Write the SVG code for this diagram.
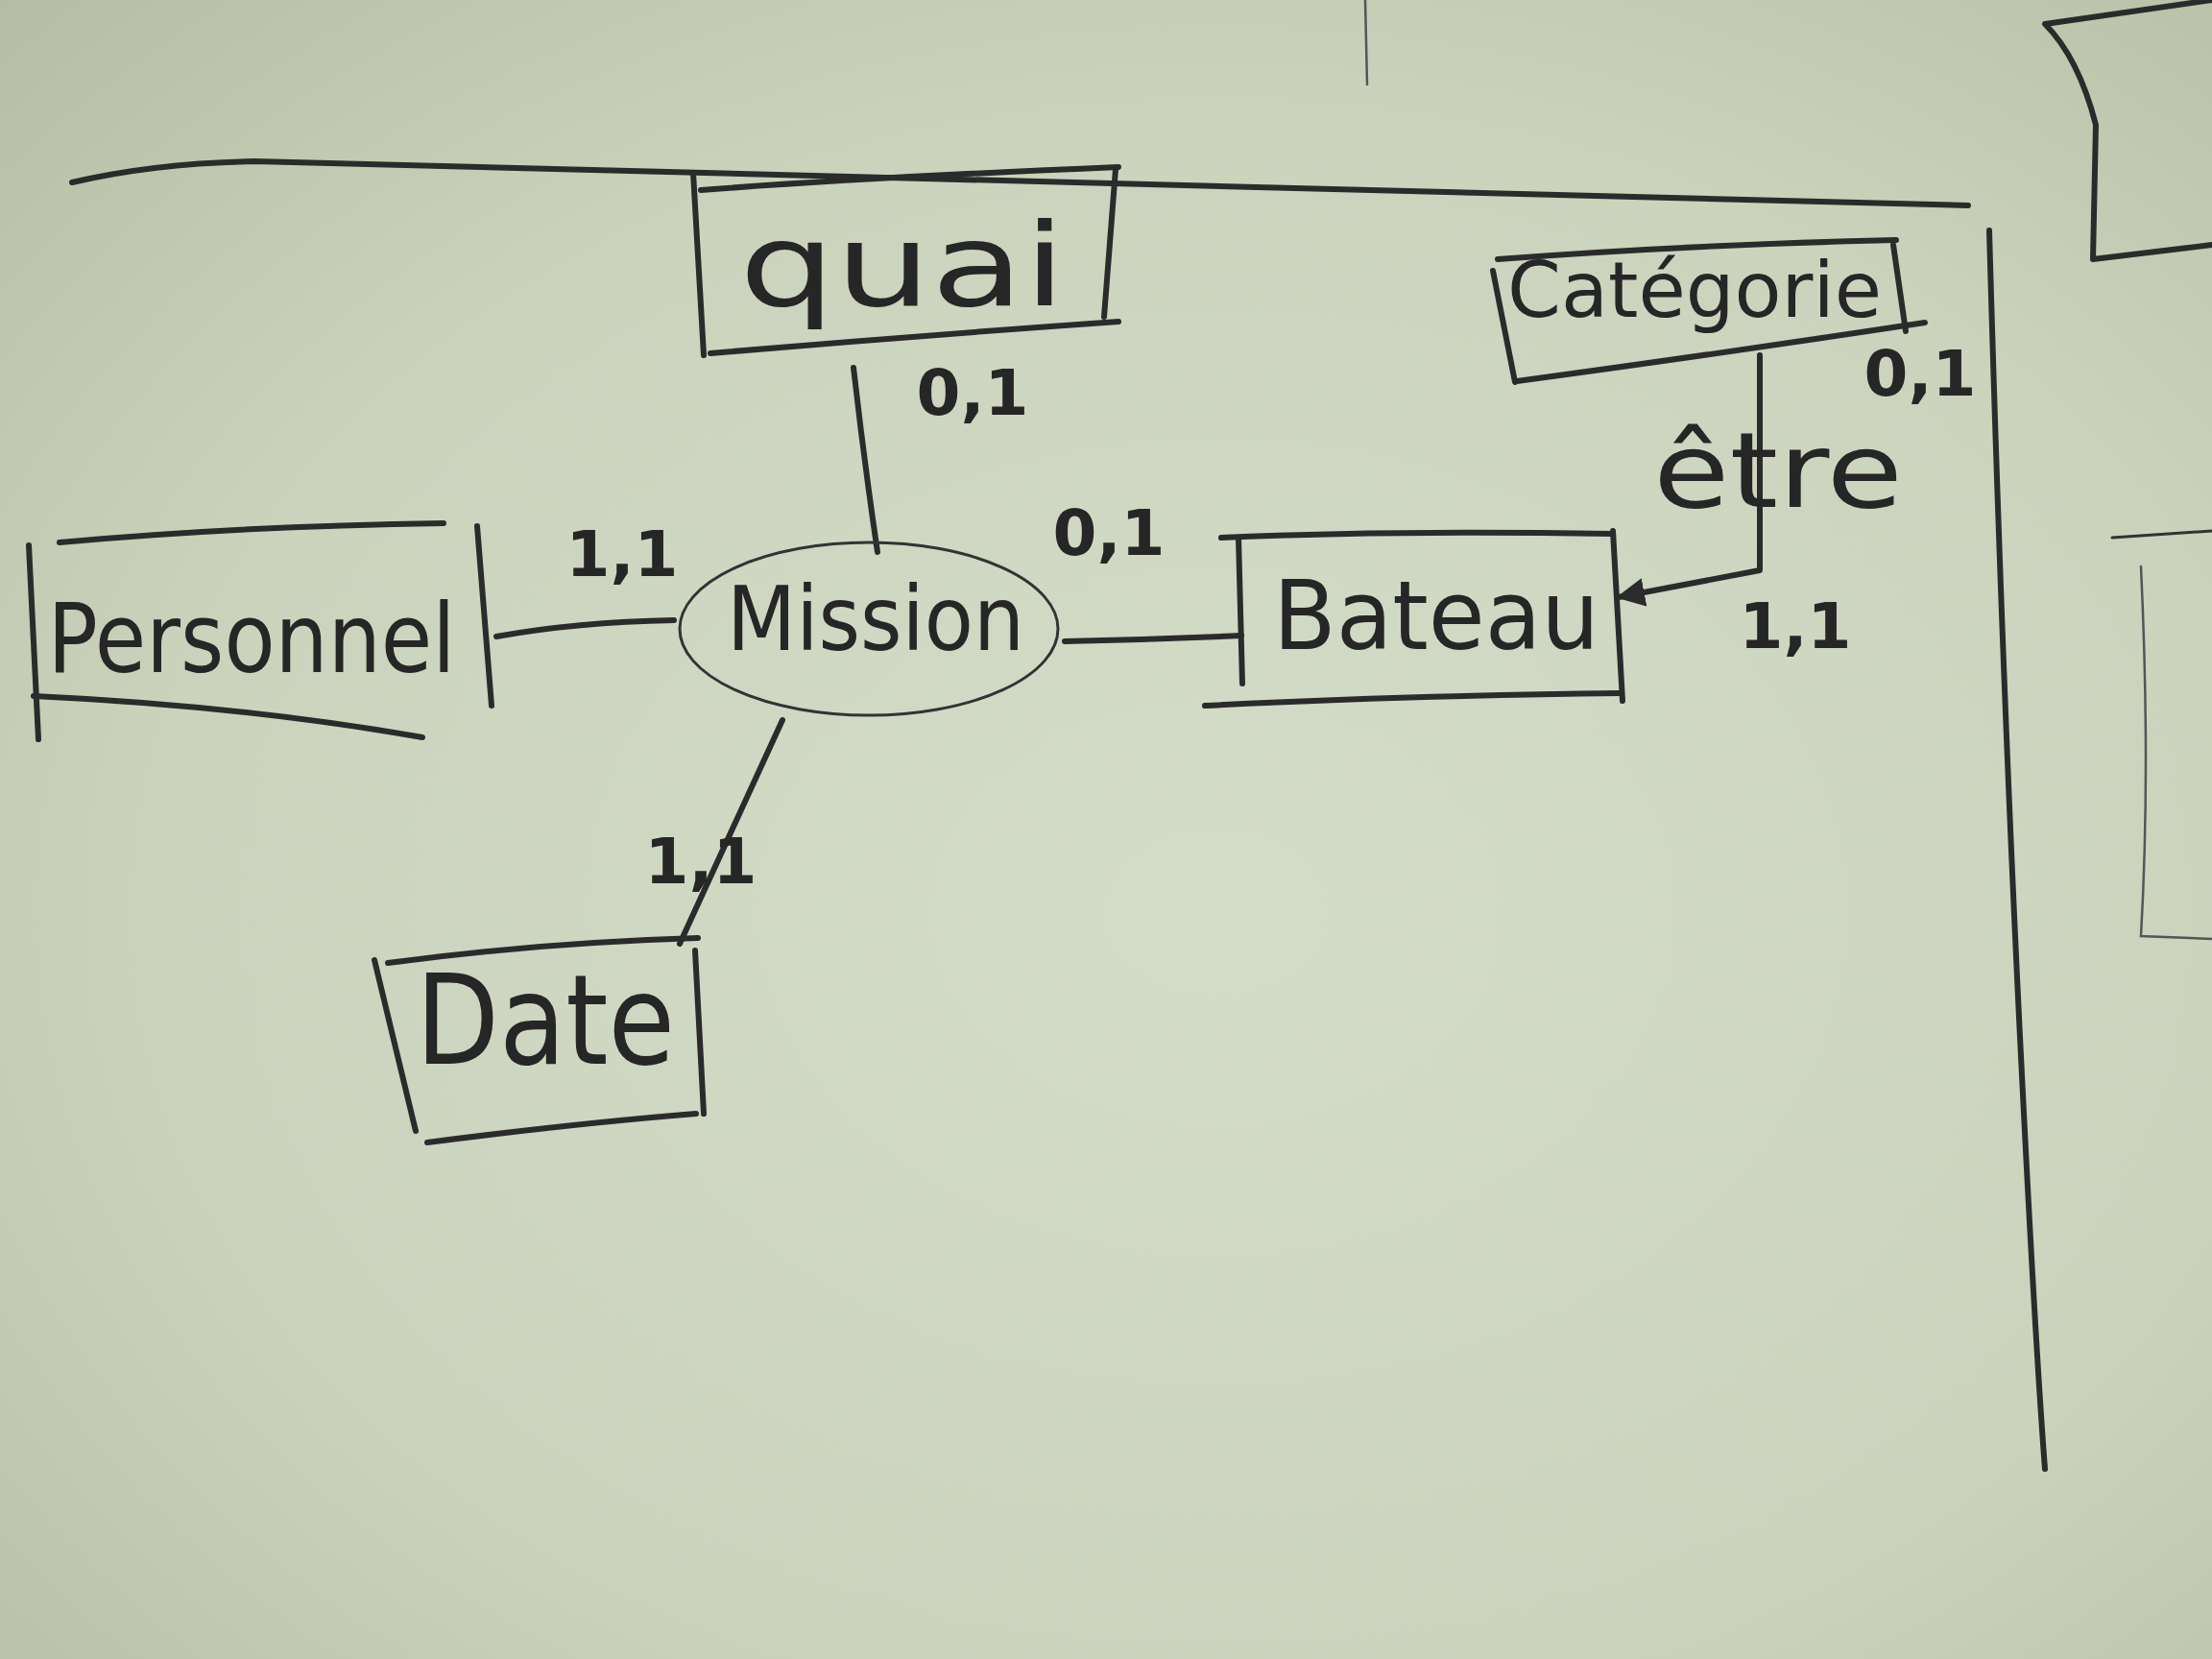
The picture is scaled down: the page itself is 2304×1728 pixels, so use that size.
<svg xmlns="http://www.w3.org/2000/svg" width="2304" height="1728" viewBox="0 0 2304 1728">
<defs>
<radialGradient id="paper" cx="0.55" cy="0.55" r="0.8">
<stop offset="0" stop-color="#d4ddc9"/>
<stop offset="0.6" stop-color="#cbd3bd"/>
<stop offset="1" stop-color="#b3bba2"/>
</radialGradient>
<marker id="arr" viewBox="0 0 10 10" refX="9" refY="5" markerWidth="5" markerHeight="5" orient="auto" markerUnits="strokeWidth">
<path d="M0,0 L10,5 L0,10 z" fill="#2b2b2b"/>
</marker>
<style>
.ink{fill:none;stroke:#2b2b2b;stroke-width:6;stroke-linecap:round;stroke-linejoin:round}
.thin{fill:none;stroke:#333;stroke-width:3;stroke-linecap:round}
.faint{fill:none;stroke:#555;stroke-width:2.5;stroke-linecap:round}
.lbl{font-family:"DejaVu Sans","Liberation Sans",sans-serif;fill:#262626;text-anchor:middle}
.card{font-family:"DejaVu Sans","Liberation Sans",sans-serif;fill:#262626;font-size:66px;font-weight:bold;text-anchor:middle}
</style>
</defs>
<rect x="0" y="0" width="2304" height="1728" fill="url(#paper)"/>

<!-- page decorations -->
<g id="page">
<path class="ink" d="M75,190 Q160,170 265,168 L2050,214"/>
<path class="ink" d="M2072,240 Q2085,700 2105,1100 Q2120,1400 2130,1530"/>
<path class="faint" d="M1422,0 L1424,88"/>
<path class="ink" d="M2304,0 L2130,25 Q2165,60 2183,130 L2180,270 L2304,255"/>
<path class="thin" d="M2200,560 L2304,553"/>
<path class="faint" d="M2230,590 Q2240,800 2230,975 L2304,978"/>
</g>

<g id="connectors">
<path class="ink" d="M889,383 Q900,480 914,575"/>
<path class="ink" d="M517,663 Q600,648 702,646"/>
<path class="ink" d="M1109,668 Q1200,666 1293,662"/>
<path class="ink" d="M1290,560 L1294,712"/>
<path class="ink" d="M815,750 Q760,870 708,983"/>
<path class="ink" d="M1833,370 L1833,594 L1686,622" marker-end="url(#arr)"/>
</g>

<g id="quai">
<path class="ink" d="M722,180 L733,370"/>
<path class="ink" d="M730,198 Q900,185 1165,174"/>
<path class="ink" d="M1162,176 L1150,330"/>
<path class="ink" d="M740,368 Q950,350 1165,335"/>
<text class="lbl" x="940" y="318" font-size="120" textLength="340" lengthAdjust="spacingAndGlyphs">quai</text>
</g>

<g id="personnel">
<path class="ink" d="M30,568 L40,770"/>
<path class="ink" d="M62,565 Q250,548 462,545"/>
<path class="ink" d="M497,548 L512,735"/>
<path class="ink" d="M35,725 Q250,735 440,768"/>
<text class="lbl" x="262" y="700" font-size="100" textLength="425" lengthAdjust="spacingAndGlyphs">Personnel</text>
</g>

<g id="mission">
<ellipse class="thin" cx="905" cy="655" rx="197" ry="90"/>
<text class="lbl" x="912" y="677" font-size="92" textLength="310" lengthAdjust="spacingAndGlyphs">Mission</text>
</g>

<g id="bateau">
<path class="ink" d="M1272,560 Q1450,552 1680,556"/>
<path class="ink" d="M1680,553 L1690,730"/>
<path class="ink" d="M1255,735 Q1450,725 1688,722"/>
<text class="lbl" x="1496" y="676" font-size="100" textLength="340" lengthAdjust="spacingAndGlyphs">Bateau</text>
</g>

<g id="categorie">
<path class="ink" d="M1555,282 L1578,398"/>
<path class="ink" d="M1560,270 Q1760,255 1975,250"/>
<path class="ink" d="M1972,255 L1985,345"/>
<path class="ink" d="M1580,397 Q1780,370 2005,336"/>
<text class="lbl" x="1765" y="330" font-size="80" textLength="390" lengthAdjust="spacingAndGlyphs">Catégorie</text>
</g>

<g id="date">
<path class="ink" d="M390,1000 L433,1178"/>
<path class="ink" d="M404,1003 Q560,982 727,977"/>
<path class="ink" d="M724,990 L733,1160"/>
<path class="ink" d="M445,1190 Q600,1170 725,1160"/>
<text class="lbl" x="568" y="1108" font-size="130" textLength="270" lengthAdjust="spacingAndGlyphs">Date</text>
</g>

<g id="labels">
<text class="card" x="1013" y="432">0,1</text>
<text class="card" x="648" y="600">1,1</text>
<text class="card" x="1155" y="578">0,1</text>
<text class="card" x="730" y="920">1,1</text>
<text class="card" x="2000" y="412" font-size="58">0,1</text>
<text class="card" x="1870" y="675">1,1</text>
<text class="lbl" x="1852" y="528" font-size="108" textLength="260" lengthAdjust="spacingAndGlyphs">être</text>
</g>
</svg>
